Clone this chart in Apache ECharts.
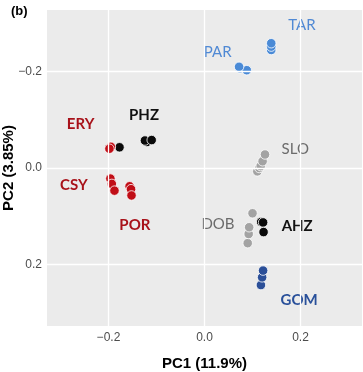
<!DOCTYPE html>
<html><head><meta charset="utf-8">
<script src="https://cdn.jsdelivr.net/npm/echarts@6/dist/echarts.min.js"></script>
<style>html,body{margin:0;padding:0;background:#fff}#c{width:363px;height:372px}</style>
</head><body><div id="c"></div>
<script>
// ---- data ----
const groups = ['TAR','PAR','SLO','PHZ','ERY','CSY','POR','DOB','AHZ','GOM'];
const TAR_x = [0.139, 0.139, 0.139];
const TAR_y = [-0.245, -0.252, -0.259];
const PAR_x = [0.074, 0.088, 0.072];
const PAR_y = [-0.207, -0.203, -0.210];
const SLO_x = [0.110, 0.114, 0.117, 0.121, 0.126];
const SLO_y = [0.007, 0.000, -0.004, -0.014, -0.028];
const PHZ_x = [-0.177, -0.120, -0.124, -0.110];
const PHZ_y = [-0.043, -0.054, -0.057, -0.058];
const ERY_x = [-0.195, -0.198];
const ERY_y = [-0.044, -0.040];
const CSY_x = [-0.196, -0.193, -0.1875];
const CSY_y = [0.022, 0.033, 0.047];
const POR_x = [-0.156, -0.153, -0.152];
const POR_y = [0.038, 0.044, 0.057];
const DOB_x = [0.090, 0.092, 0.093, 0.100];
const DOB_y = [0.156, 0.137, 0.123, 0.094];
const AHZ_x = [0.118, 0.122, 0.123];
const AHZ_y = [0.112, 0.113, 0.133];
const GOM_x = [0.1175, 0.120, 0.122];
const GOM_y = [0.243, 0.227, 0.213];
// group label anchor positions (data coordinates)
const label_x = [0.203, 0.0275, 0.189, -0.126, -0.258, -0.272, -0.145, 0.028, 0.193, 0.197];
const label_y = [-0.296, -0.241, -0.039, -0.110, -0.090, 0.035, 0.118, 0.116, 0.120, 0.275];
const xTicks = [-0.2, 0.0, 0.2];
const yTicks = [-0.2, 0.0, 0.2];
const xTickLabels = ['\u22120.2', '0.0', '0.2'];
const yTickLabels = ['\u22120.2', '0.0', '0.2'];
const xTitle = 'PC1 (11.9%)';
const yTitle = 'PC2 (3.85%)';
const panelTag = '(b)';

const pts = {TAR:[TAR_x,TAR_y],PAR:[PAR_x,PAR_y],SLO:[SLO_x,SLO_y],PHZ:[PHZ_x,PHZ_y],ERY:[ERY_x,ERY_y],
  CSY:[CSY_x,CSY_y],POR:[POR_x,POR_y],DOB:[DOB_x,DOB_y],AHZ:[AHZ_x,AHZ_y],GOM:[GOM_x,GOM_y]};

// ---- styles ----
const pointColor = {TAR:'#4a8ad6',PAR:'#4a8ad6',SLO:'#a3a3a3',DOB:'#a3a3a3',PHZ:'#0a0a0a',AHZ:'#0a0a0a',
  ERY:'#c00d16',CSY:'#c00d16',POR:'#c00d16',GOM:'#2b4f98'};
const labelColor = {TAR:'#5089d4',PAR:'#5089d4',SLO:'#6b6b6b',DOB:'#6b6b6b',PHZ:'#111111',AHZ:'#111111',
  ERY:'#a8121a',CSY:'#a8121a',POR:'#a8121a',GOM:'#29509a'};
const labelWeight = {TAR:'normal',PAR:'normal',SLO:'normal',DOB:'normal',PHZ:'bold',AHZ:'bold',
  ERY:'bold',CSY:'bold',POR:'bold',GOM:'bold'};

const LIM = 0.328;
const tickFmt = (arr, labs) => v => { const i = arr.findIndex(t => Math.abs(t - v) < 1e-9); return i >= 0 ? labs[i] : ''; };

const series = [{
  type: 'scatter', data: [], z: 1, silent: true,
  markLine: {
    silent: true, symbol: 'none', animation: false,
    label: {show: false},
    lineStyle: {color: '#ffffff', width: 1.3, type: 'solid', opacity: 1},
    emphasis: {disabled: true},
    data: xTicks.map(v => ({xAxis: v})).concat(yTicks.map(v => ({yAxis: v})))
  }
}];
groups.forEach(g => {
  const [xs, ys] = pts[g];
  series.push({
    type: 'scatter', name: g, z: 3, symbol: 'circle', symbolSize: 9.5,
    itemStyle: {color: pointColor[g], borderColor: '#ffffff', borderWidth: 0.8, opacity: 1},
    data: xs.map((x, i) => [x, ys[i]])
  });
});
series.push({
  type: 'scatter', z: 4, symbolSize: 0, silent: true,
  itemStyle: {opacity: 1},
  data: groups.map((g, i) => ({
    value: [label_x[i], label_y[i]], name: g,
    label: {show: true, position: 'inside', formatter: g, color: labelColor[g], opacity: 1,
      fontFamily: 'Lato', fontSize: 15, fontWeight: labelWeight[g]}
  }))
});

const chart = echarts.init(document.getElementById('c'), null, {renderer: 'canvas'});
chart.setOption({
  animation: false,
  backgroundColor: '#ffffff',
  grid: {left: 47, top: 10, right: 1, bottom: 46, show: true, backgroundColor: '#ebebeb', borderWidth: 0,
    containLabel: false, outerBoundsMode: 'none'},
  graphic: [{type: 'text', left: 11, top: 5, style: {text: panelTag, fontFamily: 'Liberation Sans', fontWeight: 'bold', fontSize: 13, fill: '#000'}}],
  xAxis: {
    type: 'value', min: -LIM, max: LIM,
    name: xTitle, nameLocation: 'middle', nameGap: 30, nameMoveOverlap: false,
    nameTextStyle: {fontFamily: 'Liberation Sans', fontWeight: 'bold', fontSize: 15, color: '#000'},
    axisLine: {show: false}, splitLine: {show: false},
    axisTick: {show: true, customValues: xTicks, length: 3, lineStyle: {color: '#333', width: 1}},
    axisLabel: {customValues: xTicks, formatter: tickFmt(xTicks, xTickLabels), margin: 6, fontFamily: 'Liberation Sans', fontSize: 12, color: '#4d4d4d'}
  },
  yAxis: {
    type: 'value', min: -LIM, max: LIM, inverse: true,
    name: yTitle, nameLocation: 'middle', nameGap: 31, nameMoveOverlap: false,
    nameTextStyle: {fontFamily: 'Liberation Sans', fontWeight: 'bold', fontSize: 15, color: '#000'},
    axisLine: {show: false}, splitLine: {show: false},
    axisTick: {show: true, customValues: yTicks, length: 3, lineStyle: {color: '#333', width: 1}},
    axisLabel: {customValues: yTicks, formatter: tickFmt(yTicks, yTickLabels), margin: 5, fontFamily: 'Liberation Sans', fontSize: 12, color: '#4d4d4d'}
  },
  series: series
});
</script></body></html>
